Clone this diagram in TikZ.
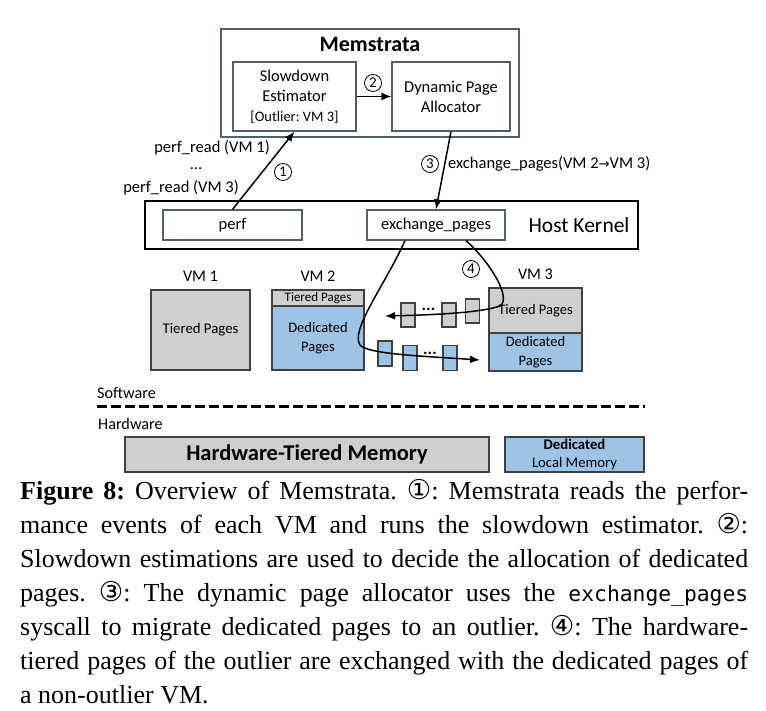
\documentclass[tikz,border=0pt]{standalone}
\usepackage{fontspec}
\setmainfont{Liberation Serif}
\setmonofont{DejaVu Sans Mono}[Scale=0.82]
\newfontfamily\calfont{Carlito}
\newfontfamily\symfont{DejaVu Sans}[Scale=0.8]
\newfontfamily\circfont{DejaVu Sans}[Scale=1.05]
\usetikzlibrary{positioning, arrows.meta}
\definecolor{tiergray}{HTML}{D0CECE}
\definecolor{dedblue}{HTML}{9DC3E6}
\definecolor{boxline}{HTML}{525E6C}
\definecolor{pageline}{HTML}{404040}
\newcommand{\fsz}[2]{\fontsize{#1}{#2}\selectfont}
\frenchspacing

\begin{document}
\begin{tikzpicture}[
        x=1pt, y=-1pt,  % one unit = one pixel of the reference, y runs downwards
        font=\calfont\fsz{16.5}{20},
        box/.style={rectangle, draw=boxline, line width=1.2pt, inner sep=0pt, align=center},
        kbox/.style={box, draw=black},
        page/.style={box, draw=pageline},
        tierp/.style={page, fill=tiergray},
        dedp/.style={page, fill=dedblue},
        stepnum/.style={circle, draw, line width=0.8pt, inner sep=0pt, minimum size=17pt, font=\calfont\fsz{15}{15}},
        flow/.style={draw, line width=1.5pt, -{Latex[length=10pt, width=8pt]}},
        lbl/.style={inner sep=0pt}
      ]
      \useasboundingbox (0,0) rectangle (766,711);

      % Memstrata
      \node[box, minimum width=298pt, minimum height=108pt] (mem) at (370,83) {};
      \node[lbl, below=9pt of mem.north, font=\calfont\bfseries\fsz{22}{24}] (memt) {Memstrata};
      \node[box, minimum width=123pt, minimum height=69pt] (slow) at (294.5,96.5)
        {Slowdown\\Estimator\\{\fsz{14.5}{20}[Outlier: VM 3]}};
      \node[box, minimum width=118pt, minimum height=69pt] (alloc) at (451,96.5)
        {Dynamic Page\\Allocator};

      % host kernel
      \node[kbox, minimum width=493pt, minimum height=48pt] (host) at (391.5,225) {};
      \node[lbl, left=9pt of host.east, font=\calfont\fsz{21.5}{24}] (hostt) {Host Kernel};
      \node[box, minimum width=139pt, minimum height=30pt] (perf) at (232.5,225) {perf};
      \node[box, minimum width=138pt, minimum height=30pt] (xchg) at (436,225) {exchange\_pages};

      % steps 1-3
      \draw[flow] (perf.north) -- (slow.south);
      \draw[flow] (slow) -- (alloc);
      \draw[flow] (alloc.south) -- (xchg.north);
      \node[stepnum] (s1) at (283,172) {1};
      \node[stepnum] (s2) at (373,83) {2};
      \node[stepnum] (s3) at (430,164) {3};
      \node[stepnum] (s4) at (471,269) {4};
      \node[lbl, anchor=east] (pr1) at (270,148) {perf\_read (VM 1)};
      \node[lbl, anchor=base] (prd) at (196,169.5) {...};
      \node[lbl, anchor=east] (pr3) at (239,188) {perf\_read (VM 3)};
      \node[lbl, anchor=west] (xl) at (448,164) {exchange\_pages(VM 2{\symfont →}VM 3)};

      % VMs
      \node[tierp, minimum width=99pt, minimum height=80pt, font=\calfont\fsz{14.8}{18}] (vm1) at (200.5,330) {Tiered Pages};
      \node[tierp, minimum width=92pt, minimum height=16pt, font=\calfont\fsz{13}{14}] (vm2t) at (318,298) {Tiered Pages};
      \node[dedp, minimum width=92pt, minimum height=64pt, font=\calfont\fsz{14.5}{19}] (vm2d) at (318,338) {Dedicated\\Pages};
      \node[tierp, minimum width=93pt, minimum height=45pt, font=\calfont\fsz{14.5}{18}] (vm3t) at (535.5,310.5) {Tiered Pages};
      \node[dedp, minimum width=93pt, minimum height=38pt, font=\calfont\fsz{14.5}{18.5}] (vm3d) at (535.5,352) {Dedicated\\Pages};
      \node[lbl, above=8pt of vm1, font=\calfont\fsz{16.2}{18}] (vm1l) {VM 1};
      \node[lbl, above=8pt of vm2t.north, font=\calfont\fsz{16.2}{18}] (vm2l) {VM 2};
      \node[lbl, above=8pt of vm3t.north, font=\calfont\fsz{16.2}{18}] (vm3l) {VM 3};

      % pages on the move
      \foreach \n/\x/\y in {1/408/315, 2/449/315, 3/472.5/311}
        \node[tierp, minimum width=14pt, minimum height=24pt] (g\n) at (\x,\y) {};
      \foreach \n/\x/\y in {1/385/353.5, 2/410/358, 3/450/358}
        \node[dedp, minimum width=14pt, minimum height=25pt] (b\n) at (\x,\y) {};
      \node[lbl, anchor=base, font=\calfont\bfseries\fsz{17}{17}] (gdots) at (428.5,311) {...};
      \node[lbl, anchor=base, font=\calfont\bfseries\fsz{17}{17}] (bdots) at (430,355) {...};

      % step 4
      \coordinate (xa) at ([xshift=-31pt]xchg.south);
      \coordinate (xb) at ([xshift=30pt]xchg.south);
      \coordinate (dedin) at (480,360);
      \coordinate (tierout) at (385,316);
      \draw[flow] (xa) .. controls (385,285) and (350,330) .. (360,345)
                       .. controls (368,354) and (420,356) .. (dedin);
      \draw[flow] (xb) .. controls (490,262) and (512,298) .. (500,306)
                       .. controls (480,313) and (430,315) .. (tierout);

      % software / hardware
      \node[lbl, anchor=west, font=\calfont\fsz{16.2}{18}] (sw) at (97,393) {Software};
      \node[lbl, anchor=west, font=\calfont\fsz{16.2}{18}] (hw) at (98,424) {Hardware};
      \coordinate (divl) at (97,406);
      \coordinate (divr) at (645,406);
      \draw[line width=3pt, dash pattern=on 10pt off 4pt] (divl) -- (divr);
      \node[tierp, minimum width=364pt, minimum height=35pt, font=\calfont\bfseries\fsz{22.5}{24}] (hwmem) at (307,454.5) {Hardware-Tiered Memory};
      \node[dedp, minimum width=139pt, minimum height=35pt, font=\calfont\fsz{14.7}{18}] (locmem) at (574.5,454.5) {\textbf{Dedicated}\\Local Memory};

      % caption
      \node[lbl, anchor=base west, text width=728pt, align=justify, font=\rmfamily\fsz{26}{34}] (cap) at (20,499)
        {\textbf{Figure 8:} Overview of Memstrata. {\circfont ①}: Memstrata reads the perfor-\linebreak
        mance events of each VM and runs the slowdown estimator. {\circfont ②}:\linebreak
        Slowdown estimations are used to decide the allocation of dedicated\linebreak
        pages. {\circfont ③}: The dynamic page allocator uses the \texttt{exchange\_pages}\linebreak
        syscall to migrate dedicated pages to an outlier. {\circfont ④}: The hardware-\linebreak
        tiered pages of the outlier are exchanged with the dedicated pages of\linebreak
        a non-outlier VM.};
\end{tikzpicture}
\end{document}
